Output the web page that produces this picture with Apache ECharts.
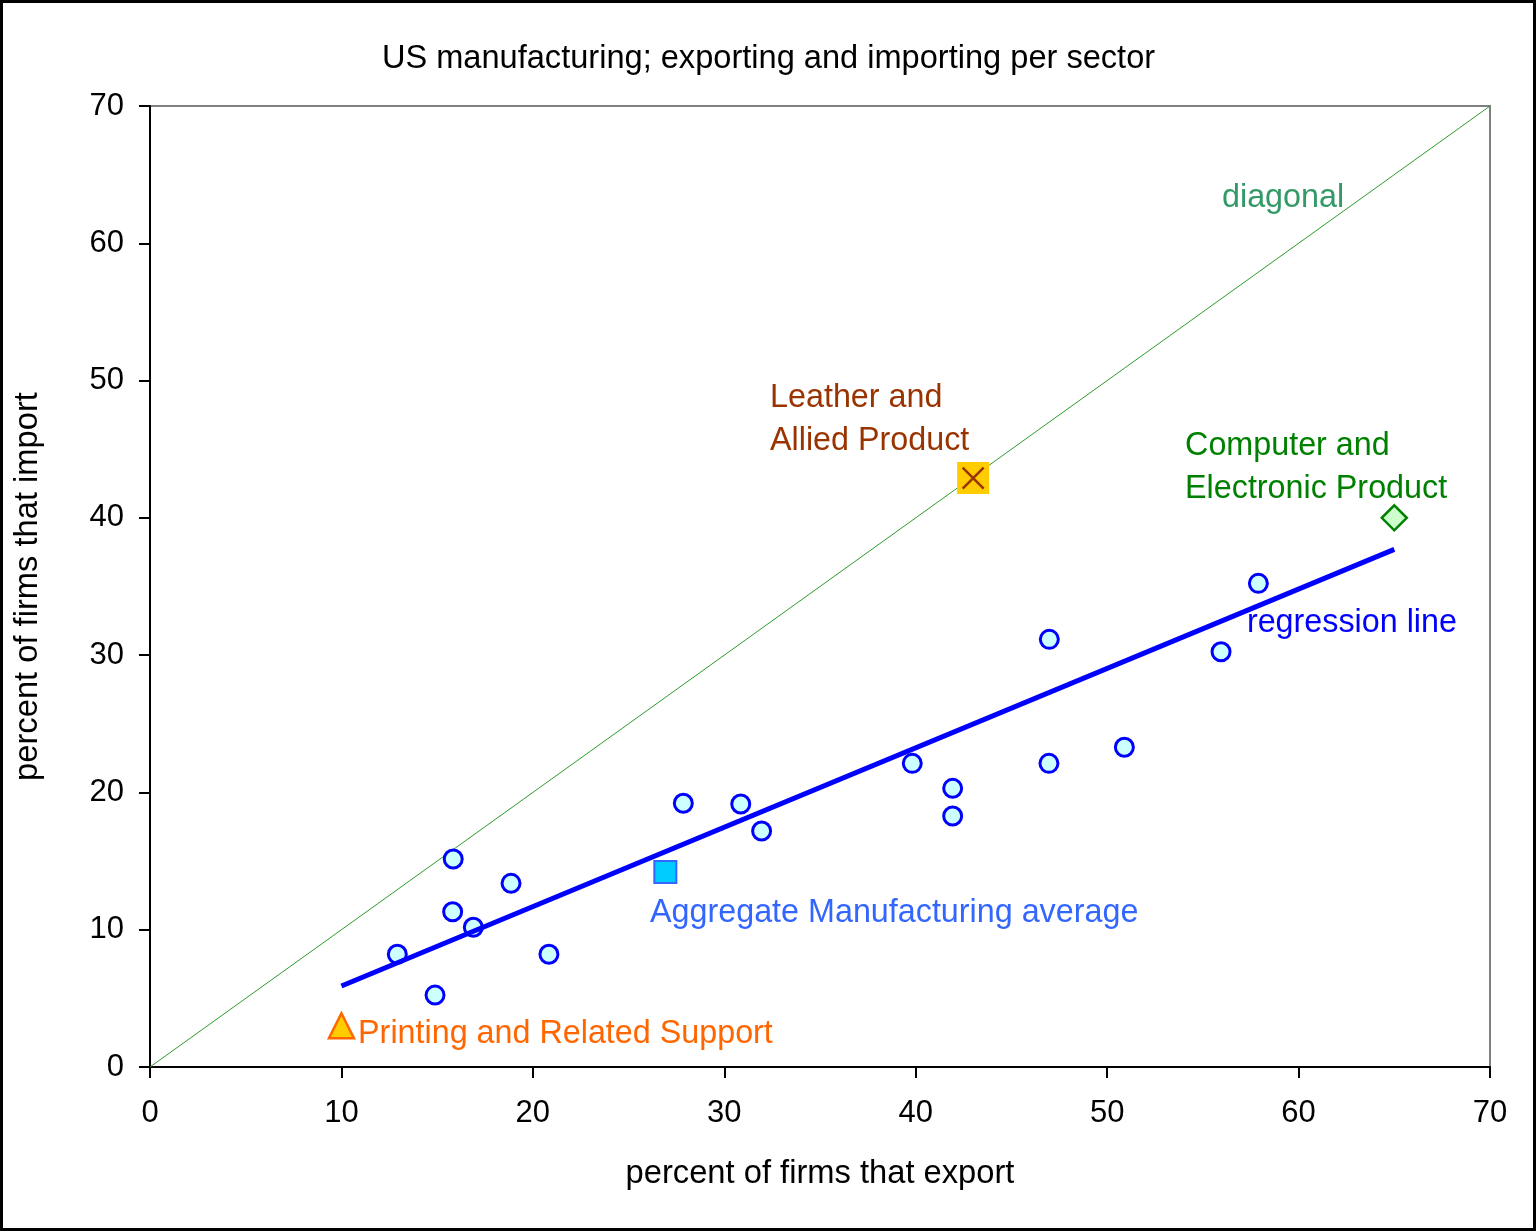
<!DOCTYPE html>
<html>
<head>
<meta charset="utf-8">
<script src="https://cdn.jsdelivr.net/npm/echarts@6/dist/echarts.min.js"></script>
<style>
html,body{margin:0;padding:0;background:#fff;}
#chart{width:1537px;height:1232px;}
</style>
</head>
<body>
<div id="chart"></div>
<script>
// ---- data ----
const sectorX = [15.84, 18.86, 15.81, 16.89, 12.92, 20.84, 14.89, 27.86, 30.86, 31.95, 39.82, 41.93, 41.93, 46.96, 50.9, 46.98, 55.95, 57.9];
const sectorY = [15.15, 13.38, 11.31, 10.18, 8.21, 8.21, 5.24, 19.21, 19.16, 17.19, 22.12, 20.3, 18.28, 22.12, 23.29, 31.15, 30.25, 35.23];
const aggregatePoint = [26.92, 14.2];
const leatherPoint = [43.0, 42.9];
const computerPoint = [65.0, 40.0];
const printingPoint = [10.0, 3.0];
const regressionX = [10, 65];
const regressionY = [5.9, 37.7];
const diagonalX = [0, 70];
const diagonalY = [0, 70];
const labelNames = ['diagonal', 'regression line', 'Leather and\nAllied Product', 'Computer and\nElectronic Product', 'Aggregate Manufacturing average', 'Printing and Related Support'];
const labelX = [56.0, 57.3, 32.39, 54.07, 26.12, 10.87];
const labelY = [63.3, 32.34, 47.16, 43.67, 11.22, 2.4];
const xTicks = [0, 10, 20, 30, 40, 50, 60, 70];
const yTicks = [0, 10, 20, 30, 40, 50, 60, 70];

const FONT = '"Liberation Sans", Arial, sans-serif';
const labelColors = ['#339966', '#0000FF', '#993300', '#008000', '#3366FF', '#FF6600'];

const chart = echarts.init(document.getElementById('chart'), null, {renderer: 'canvas'});
const zip = (a, b) => a.map((v, i) => [v, b[i]]);

const labelSeries = labelNames.map((name, i) => ({
  type: 'scatter',
  symbol: 'circle',
  symbolSize: 0,
  silent: true,
  z: 10,
  itemStyle: {opacity: 1},
  data: [[labelX[i], labelY[i]]],
  label: {
    show: true,
    position: 'right',
    distance: 0,
    formatter: name,
    color: labelColors[i],
    fontSize: 32.3,
    fontFamily: FONT,
    lineHeight: 43,
    align: 'left',
    verticalAlign: 'middle'
  }
}));

const option = {
  animation: false,
  backgroundColor: '#fff',
  title: {
    text: 'US manufacturing; exporting and importing per sector',
    left: 'center',
    top: 38,
    textStyle: {fontFamily: FONT, fontSize: 32.6, fontWeight: 'normal', color: '#000'}
  },
  graphic: [{
    type: 'rect',
    shape: {x: 1.5, y: 1.5, width: 1533, height: 1228},
    style: {fill: 'none', stroke: '#000', lineWidth: 3},
    silent: true
  }],
  grid: {
    left: 150, top: 106, right: 47, bottom: 165,
    show: true, borderColor: '#808080', borderWidth: 2, backgroundColor: 'transparent'
  },
  xAxis: {
    type: 'value', min: xTicks[0], max: xTicks[xTicks.length - 1], interval: 10,
    name: 'percent of firms that export', nameLocation: 'middle', nameGap: 90,
    nameTextStyle: {fontFamily: FONT, fontSize: 32.7, color: '#000'},
    axisLine: {show: true, onZero: false, lineStyle: {color: '#000', width: 2}},
    axisTick: {show: true, inside: false, length: 11, lineStyle: {color: '#000', width: 2}},
    axisLabel: {fontFamily: FONT, fontSize: 31, color: '#000', margin: 31},
    splitLine: {show: false}
  },
  yAxis: {
    type: 'value', min: yTicks[0], max: yTicks[yTicks.length - 1], interval: 10,
    name: 'percent of firms that import', nameLocation: 'middle', nameGap: 106,
    nameTextStyle: {fontFamily: FONT, fontSize: 32.7, color: '#000'},
    axisLine: {show: true, onZero: false, lineStyle: {color: '#000', width: 2}},
    axisTick: {show: true, inside: false, length: 11, lineStyle: {color: '#000', width: 2}},
    axisLabel: {fontFamily: FONT, fontSize: 31, color: '#000', margin: 26},
    splitLine: {show: false}
  },
  series: [
    {
      type: 'line', name: 'diagonal', data: zip(diagonalX, diagonalY),
      showSymbol: false, symbol: 'none', silent: true, z: 2,
      lineStyle: {color: '#2E9A2E', width: 1}
    },
    {
      type: 'line', name: 'regression', data: zip(regressionX, regressionY),
      showSymbol: false, symbol: 'none', silent: true, z: 4,
      lineStyle: {color: '#0000FF', width: 5}
    },
    {
      type: 'scatter', name: 'sectors', data: zip(sectorX, sectorY), z: 3,
      symbol: 'circle', symbolSize: 18,
      itemStyle: {color: '#CCFFFF', borderColor: '#0000FF', borderWidth: 3, opacity: 1}
    },
    {
      type: 'scatter', name: 'aggregate', data: [aggregatePoint], z: 5,
      symbol: 'rect', symbolSize: 22,
      itemStyle: {color: '#00CCFF', borderColor: '#3366FF', borderWidth: 2, opacity: 1}
    },
    {
      type: 'scatter', name: 'leather', data: [leatherPoint], z: 5,
      symbol: 'rect', symbolSize: 32,
      itemStyle: {color: '#FFCC00', borderWidth: 0, opacity: 1}
    },
    {
      type: 'scatter', name: 'leatherX', data: [leatherPoint], z: 6,
      symbol: 'path://M0,0L10,10M10,0L0,10', symbolSize: 21,
      itemStyle: {color: 'rgba(0,0,0,0)', borderColor: '#993300', borderWidth: 2.5, opacity: 1}
    },
    {
      type: 'scatter', name: 'computer', data: [computerPoint], z: 5,
      symbol: 'diamond', symbolSize: 25,
      itemStyle: {color: '#CCFFCC', borderColor: '#008000', borderWidth: 2.5, opacity: 1}
    },
    {
      type: 'scatter', name: 'printing', data: [printingPoint], z: 5,
      symbol: 'triangle', symbolSize: 25,
      itemStyle: {color: '#FFCC00', borderColor: '#FF6600', borderWidth: 2.5, opacity: 1}
    }
  ].concat(labelSeries)
};
chart.setOption(option);
</script>
</body>
</html>
